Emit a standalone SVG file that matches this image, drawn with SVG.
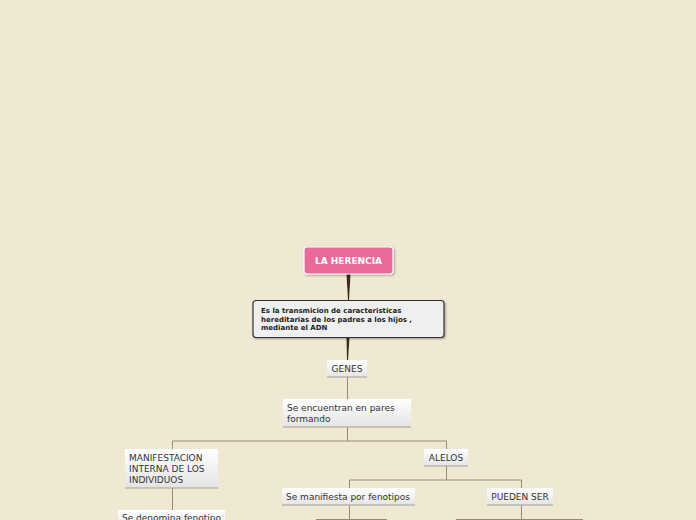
<svg xmlns="http://www.w3.org/2000/svg" width="696" height="520" viewBox="0 0 696 520">
<defs>
<linearGradient id="nodeGrad" x1="0" y1="0" x2="0" y2="1">
<stop offset="0" stop-color="#FFFFFF"/>
<stop offset="1" stop-color="#E4E4E4"/>
</linearGradient>
<filter id="sh" x="-10%" y="-20%" width="120%" height="150%">
<feDropShadow dx="1" dy="1" stdDeviation="0.8" flood-color="#000" flood-opacity="0.35"/>
</filter>
</defs>
<style>
text{font-family:"DejaVu Sans","Verdana",sans-serif;font-size:9px;fill:#333333}
.node rect{fill:url(#nodeGrad)}
.node line{stroke:#A79E8C;stroke-width:1}
.conn{stroke:#9A8A70;stroke-width:1;fill:none}
.thick{fill:#3A2A1C}
.desc text{font-size:7px;font-weight:bold;fill:#222222}
</style>
<rect width="696" height="520" fill="#EFE8D2"/>
<g id="connectors">
<polygon class="thick" points="346.5,274 350.5,274 349,300 348,300"/>
<polygon class="thick" points="346.5,337 349.5,337 348,360 347,360"/>
<path class="conn" d="M347.5,377V399M347.5,427V441M172.5,441H446.5M172.5,441V449M446.5,441V449M172.5,488V510M446.5,466V480M349.5,480H521.5M349.5,480V488M521.5,480V488M349.5,505V519M316,519.5H387M521.5,505V519M456,519.5H583"/>
</g>
<g id="n-herencia">
<rect x="304" y="247" width="89" height="27" rx="3" fill="#E96A98" stroke="#FFFFFF" stroke-width="1.2" filter="url(#sh)"/>
<text x="348.5" y="264" text-anchor="middle" style="font-size:9px;font-weight:bold;fill:#FFFFFF">LA HERENCIA</text>
</g>
<g id="n-desc" class="desc">
<rect x="253" y="300.5" width="191" height="37" rx="3" fill="#EFEFEF" stroke="#333333" stroke-width="1.2" filter="url(#sh)"/>
<text x="261" y="313">Es la transmicion de caracteristicas</text>
<text x="261" y="321.5">hereditarias de los padres a los hijos ,</text>
<text x="261" y="330">mediante el ADN</text>
</g>
<g id="n-genes" class="node">
<rect x="327" y="360" width="40" height="17"/>
<line x1="327" y1="377" x2="367" y2="377"/>
<text x="347" y="372" text-anchor="middle">GENES</text>
</g>
<g id="n-encuentran" class="node">
<rect x="283" y="399" width="128" height="28"/>
<line x1="283" y1="427" x2="411" y2="427"/>
<text x="287" y="411">Se encuentran en pares</text>
<text x="287" y="422">formando</text>
</g>
<g id="n-manifestacion" class="node">
<rect x="125" y="449" width="93" height="39"/>
<line x1="125" y1="488" x2="218" y2="488"/>
<text x="129" y="461">MANIFESTACION</text>
<text x="129" y="472">INTERNA DE LOS</text>
<text x="129" y="483">INDIVIDUOS</text>
</g>
<g id="n-fenotipo" class="node">
<rect x="118" y="510" width="107" height="20"/>
<text x="122" y="520.5">Se denomina fenotipo</text>
</g>
<g id="n-alelos" class="node">
<rect x="424" y="449" width="44" height="17"/>
<line x1="424" y1="466" x2="468" y2="466"/>
<text x="446" y="461" text-anchor="middle">ALELOS</text>
</g>
<g id="n-manifiesta" class="node">
<rect x="282" y="488" width="133" height="17"/>
<line x1="282" y1="505" x2="415" y2="505"/>
<text x="286" y="500">Se manifiesta por fenotipos</text>
</g>
<g id="n-pueden" class="node">
<rect x="487" y="488" width="66" height="17"/>
<line x1="487" y1="505" x2="553" y2="505"/>
<text x="520" y="500" text-anchor="middle">PUEDEN SER</text>
</g>
</svg>
